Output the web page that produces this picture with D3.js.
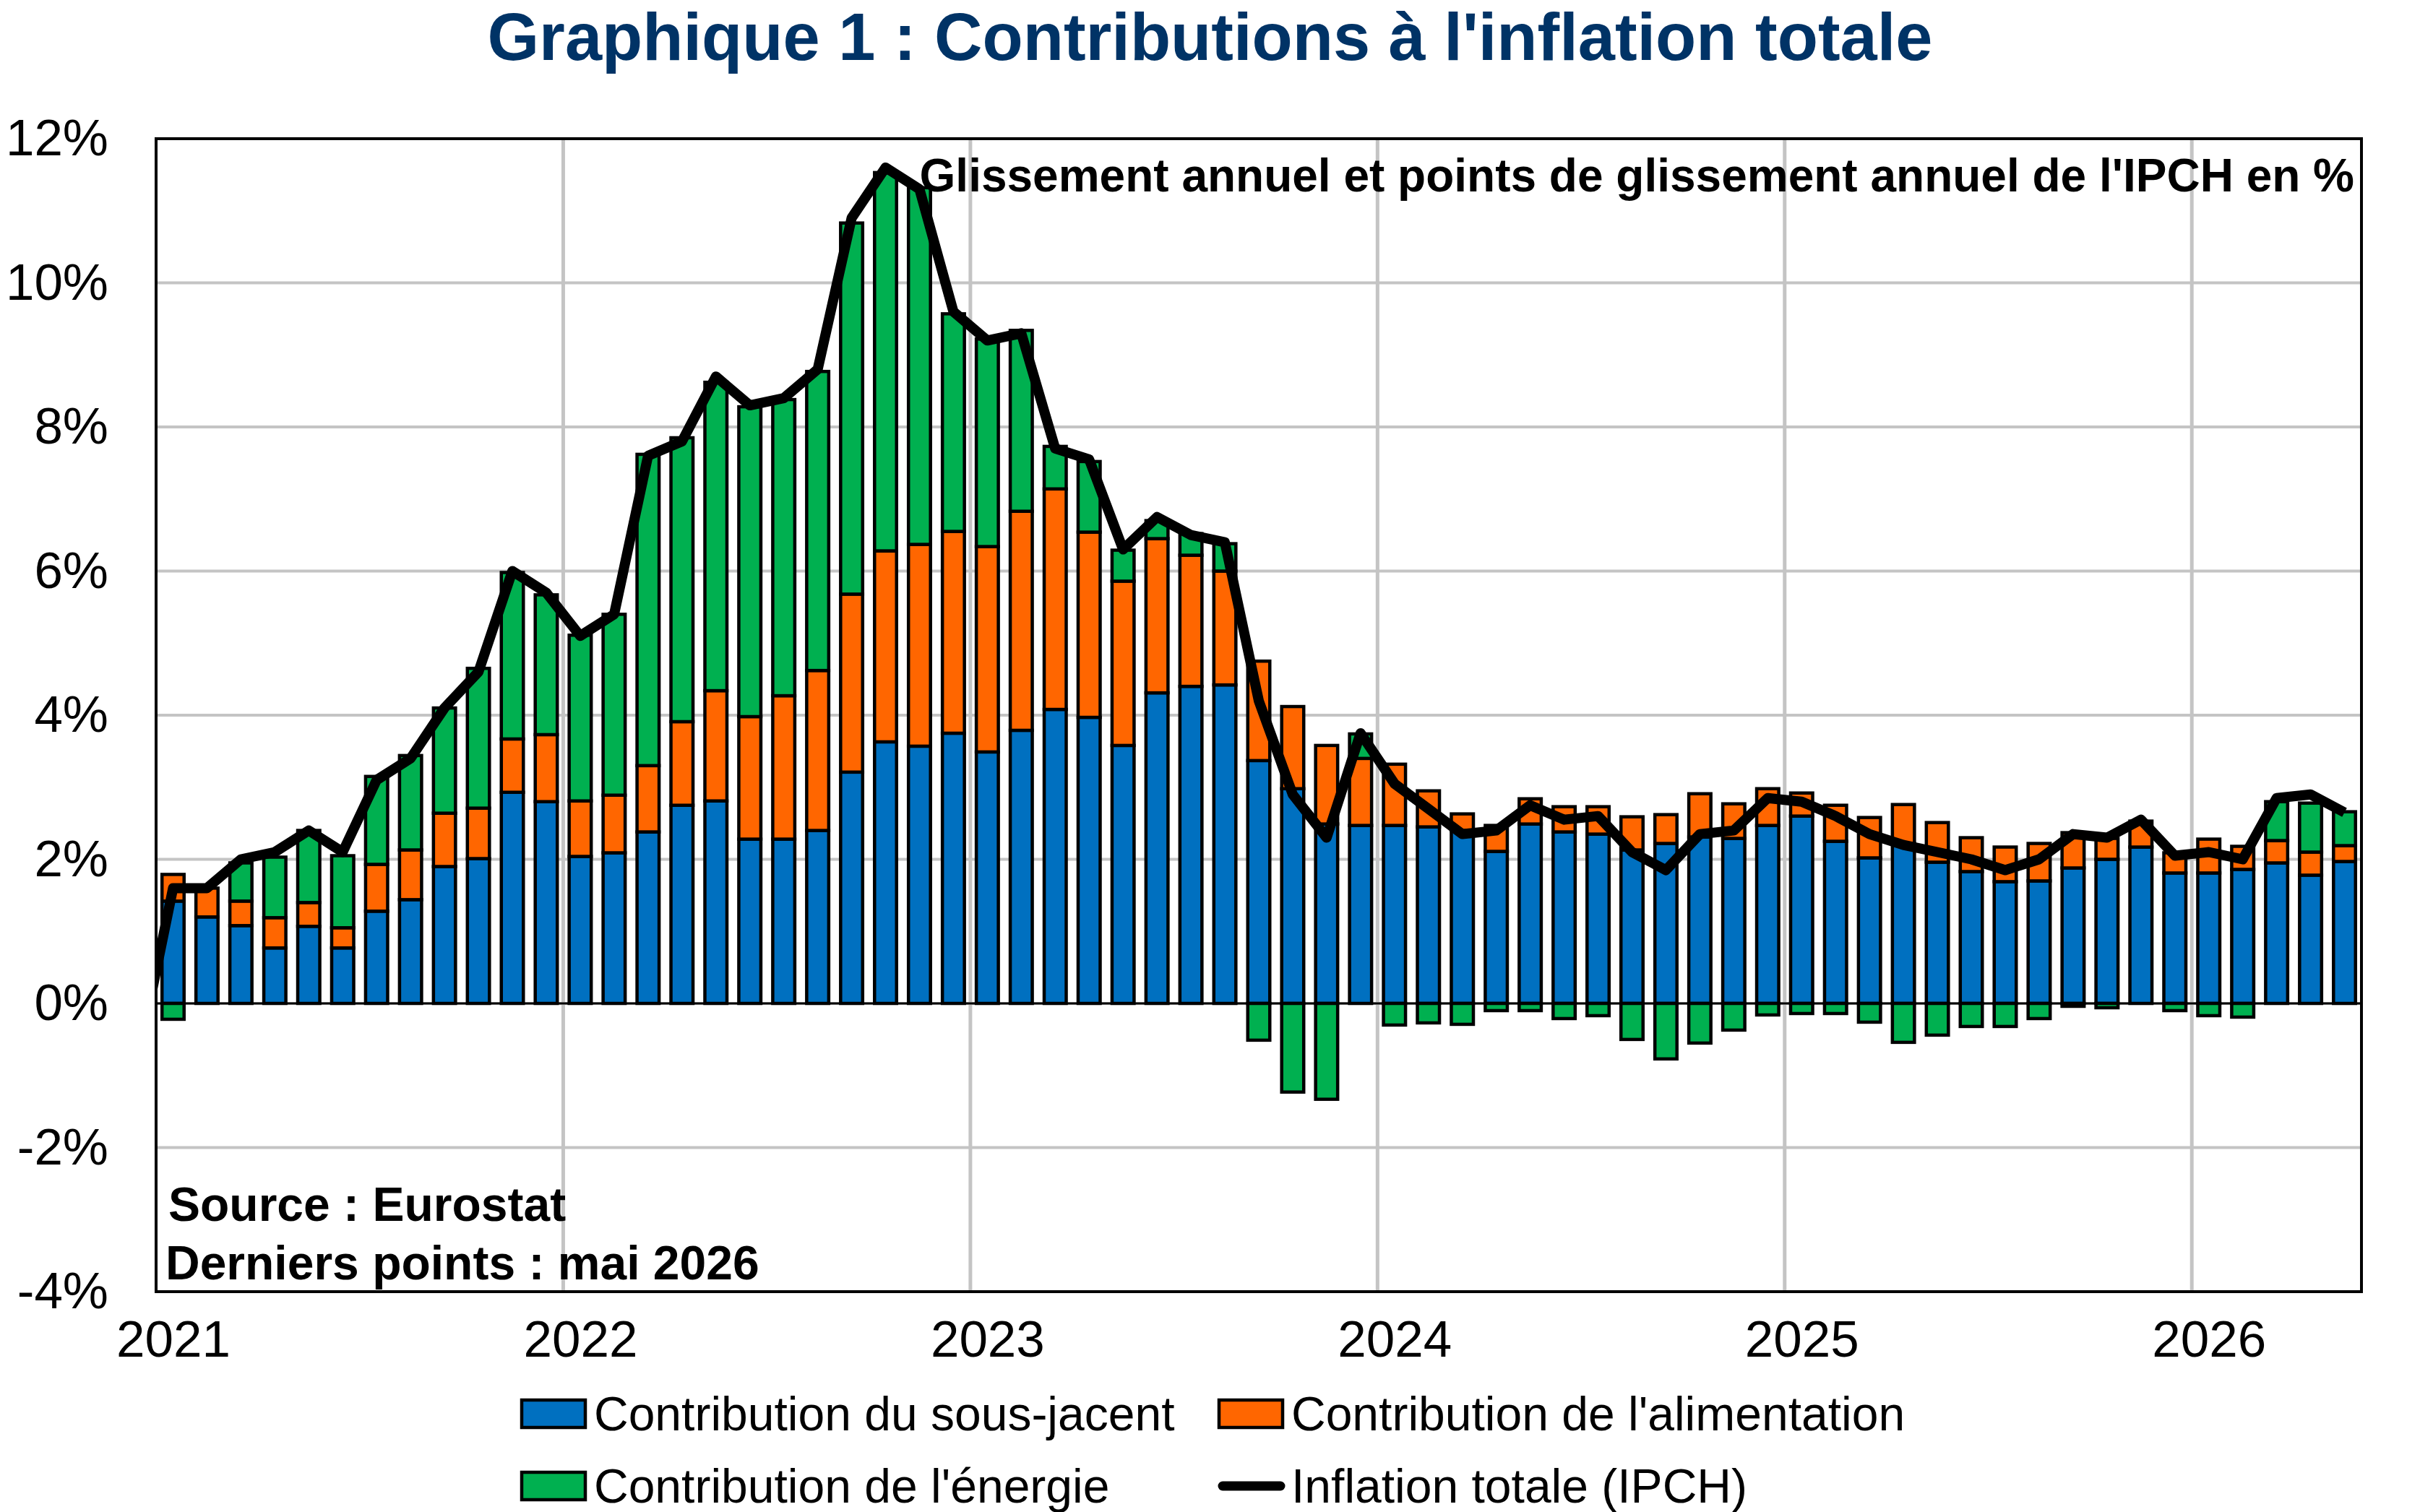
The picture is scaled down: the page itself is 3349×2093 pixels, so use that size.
<!DOCTYPE html>
<html>
<head>
<meta charset="utf-8">
<script src="https://cdn.jsdelivr.net/npm/d3@7"></script>
<style>
  body { margin: 0; background: #fff; }
  text { font-family: "Liberation Sans", Arial, sans-serif; }
</style>
</head>
<body>
<div id="chart"></div>
<script>
// Data (points de glissement annuel, janv. 2021 -> mai 2026)
const years = ['2021', '2022', '2023', '2024', '2025', '2026'];
const months = [];
years.forEach(y => d3.range(1, 13).forEach(m => months.push(y + '-' + String(m).padStart(2, '0'))));
months.length = 65; // dernier point : mai 2026

const sousJacent = [1.42, 1.20, 1.08, 0.77, 1.07, 0.77, 1.28, 1.44, 1.90, 2.01, 2.93, 2.80,
  2.04, 2.09, 2.38, 2.75, 2.81, 2.28, 2.28, 2.40, 3.21, 3.63, 3.57, 3.75,
  3.49, 3.79, 4.08, 3.97, 3.58, 4.31, 4.40, 4.42, 3.37, 2.98, 2.49, 2.47,
  2.47, 2.45, 2.40, 2.11, 2.49, 2.38, 2.35, 2.13, 2.22, 2.31, 2.29, 2.47,
  2.60, 2.25, 2.02, 2.22, 1.96, 1.83, 1.69, 1.70, 1.88, 2.00, 2.17, 1.81,
  1.81, 1.86, 1.95, 1.78, 1.97];
const alimentation = [0.37, 0.40, 0.34, 0.42, 0.33, 0.28, 0.65, 0.69, 0.74, 0.70, 0.74, 0.93,
  0.77, 0.80, 0.92, 1.16, 1.53, 1.70, 1.99, 2.22, 2.47, 2.65, 2.80, 2.80,
  2.85, 3.04, 3.06, 2.57, 2.28, 2.14, 1.82, 1.58, 1.38, 1.14, 1.09, 0.93,
  0.85, 0.50, 0.23, 0.36, 0.35, 0.35, 0.38, 0.46, 0.40, 0.60, 0.48, 0.51,
  0.32, 0.50, 0.56, 0.54, 0.55, 0.47, 0.48, 0.52, 0.49, 0.29, 0.36, 0.28,
  0.47, 0.32, 0.31, 0.32, 0.22];
const energie = [-0.22, 0.00, 0.53, 0.84, 1.00, 1.00, 1.22, 1.31, 1.46, 1.94, 2.31, 1.94,
  2.30, 2.51, 4.32, 3.94, 4.28, 4.30, 4.11, 4.15, 5.15, 5.25, 4.95, 3.02,
  2.88, 2.51, 0.59, 0.98, 0.43, 0.25, 0.30, 0.38, -0.51, -1.23, -1.33, 0.34,
  -0.30, -0.27, -0.29, -0.10, -0.10, -0.21, -0.17, -0.50, -0.77, -0.55, -0.37, -0.16,
  -0.14, -0.14, -0.26, -0.54, -0.44, -0.32, -0.32, -0.21, -0.04, -0.06, 0.00, -0.10,
  -0.17, -0.19, 0.54, 0.68, 0.47];
// Inflation totale, avec décembre 2020 en premier point (hors cadre)
const inflationDec2020 = -0.7;
const inflation = [1.6, 1.6, 2.0, 2.1, 2.4, 2.1, 3.1, 3.4, 4.1, 4.6, 6.0, 5.7,
  5.1, 5.4, 7.6, 7.8, 8.7, 8.3, 8.4, 8.8, 10.9, 11.6, 11.3, 9.6,
  9.2, 9.3, 7.7, 7.55, 6.3, 6.75, 6.5, 6.4, 4.2, 2.9, 2.3, 3.75,
  3.05, 2.7, 2.35, 2.4, 2.75, 2.55, 2.6, 2.1, 1.85, 2.35, 2.4, 2.85,
  2.8, 2.6, 2.35, 2.2, 2.1, 2.0, 1.85, 2.0, 2.35, 2.3, 2.55, 2.05,
  2.1, 2.0, 2.85, 2.9, 2.65];

const seriesKeys = ['sj', 'ali', 'ene'];
const seriesNames = ["Contribution du sous-jacent", "Contribution de l'alimentation", "Contribution de l'énergie"];
const colors = { sj: '#0070C0', ali: '#FF6600', ene: '#00B050' };
const yTicks = [-4, -2, 0, 2, 4, 6, 8, 10, 12];

// Dimensions
const W = 3349, H = 2093;
const plot = { left: 216, right: 3268, top: 192, bottom: 1788 };

const svg = d3.select('#chart').append('svg')
  .attr('width', W).attr('height', H)
  .style('background', '#fff');

const rows = months.map((m, i) => ({ month: m, i: i, sj: sousJacent[i], ali: alimentation[i], ene: energie[i] }));

const x = d3.scaleLinear().domain([0, months.length]).range([plot.left, plot.right]);
const band = d3.scaleBand().domain(months).range([plot.left, plot.right]).paddingInner(0.35).paddingOuter(0.175);
const y = d3.scaleLinear().domain([-4, 12]).range([plot.bottom, plot.top]);

// Title
svg.append('text')
  .attr('x', W / 2).attr('y', 83)
  .attr('text-anchor', 'middle')
  .style('font-size', '92px').style('font-weight', 'bold').style('fill', '#003366')
  .text("Graphique 1 : Contributions à l'inflation totale");

// Grid
svg.append('g').selectAll('line.h')
  .data(yTicks.filter(t => t > -4 && t < 12))
  .enter().append('line')
  .attr('x1', plot.left).attr('x2', plot.right)
  .attr('y1', d => y(d)).attr('y2', d => y(d))
  .style('stroke', '#C4C4C4').style('stroke-width', 4);

svg.append('g').selectAll('line.v')
  .data(d3.range(1, years.length).map(k => k * 12))
  .enter().append('line')
  .attr('x1', d => x(d)).attr('x2', d => x(d))
  .attr('y1', plot.top).attr('y2', plot.bottom)
  .style('stroke', '#C4C4C4').style('stroke-width', 5);

// Bars
const stack = d3.stack().keys(seriesKeys).offset(d3.stackOffsetDiverging);
const stacked = stack(rows);

svg.append('g').selectAll('g')
  .data(stacked)
  .enter().append('g')
  .attr('fill', d => colors[d.key])
  .selectAll('rect')
  .data(d => d.filter(s => Math.abs(s[1] - s[0]) > 0.001))
  .enter().append('rect')
  .attr('x', d => band(d.data.month))
  .attr('width', band.bandwidth())
  .attr('y', d => y(Math.max(d[0], d[1])))
  .attr('height', d => Math.abs(y(d[0]) - y(d[1])))
  .style('stroke', '#000').style('stroke-width', 4.5);

// Zero line
svg.append('line')
  .attr('x1', plot.left).attr('x2', plot.right)
  .attr('y1', y(0)).attr('y2', y(0))
  .style('stroke', '#000').style('stroke-width', 3);

// Inflation line (clipped to plot area)
svg.append('clipPath').attr('id', 'clip')
  .append('rect')
  .attr('x', plot.left).attr('y', plot.top)
  .attr('width', plot.right - plot.left).attr('height', plot.bottom - plot.top);

const linePts = [[-0.5, inflationDec2020]].concat(inflation.map((v, i) => [i + 0.5, v]));
const line = d3.line().x(d => x(d[0])).y(d => y(d[1]));
svg.append('path')
  .datum(linePts)
  .attr('clip-path', 'url(#clip)')
  .attr('d', line)
  .style('fill', 'none').style('stroke', '#000')
  .style('stroke-width', 14).style('stroke-linejoin', 'round');

// Plot frame
svg.append('rect')
  .attr('x', plot.left).attr('y', plot.top)
  .attr('width', plot.right - plot.left).attr('height', plot.bottom - plot.top)
  .style('fill', 'none').style('stroke', '#000').style('stroke-width', 4);

// Axes
const yAxis = d3.axisLeft(y).tickValues(yTicks).tickFormat(d => d + '%').tickSize(0).tickPadding(66);
svg.append('g')
  .attr('transform', `translate(${plot.left},0)`)
  .call(yAxis)
  .call(g => g.select('.domain').remove())
  .selectAll('text')
  .style('font-size', '71px').style('fill', '#000')
  .attr('font-family', null);

const xAxis = d3.axisBottom(x).tickValues(years.map((d, k) => k * 12 + 0.5)).tickFormat((d, k) => years[k]).tickSize(0).tickPadding(40);
svg.append('g')
  .attr('transform', `translate(0,${plot.bottom})`)
  .call(xAxis)
  .call(g => g.select('.domain').remove())
  .selectAll('text')
  .style('font-size', '71px').style('fill', '#000')
  .attr('font-family', null);

// Inner texts
svg.append('text')
  .attr('x', 3258).attr('y', 265)
  .attr('text-anchor', 'end')
  .style('font-size', '64px').style('font-weight', 'bold')
  .text("Glissement annuel et points de glissement annuel de l'IPCH en %");

svg.append('text')
  .attr('x', 233).attr('y', 1690)
  .style('font-size', '66px').style('font-weight', 'bold')
  .text('Source : Eurostat');
svg.append('text')
  .attr('x', 229).attr('y', 1771)
  .style('font-size', '66px').style('font-weight', 'bold')
  .text('Derniers points : mai 2026');

// Legend
const legendItems = [
  { name: seriesNames[0], type: 'rect', color: colors.sj, x: 722, y: 1957 },
  { name: seriesNames[1], type: 'rect', color: colors.ali, x: 1687, y: 1957 },
  { name: seriesNames[2], type: 'rect', color: colors.ene, x: 722, y: 2057 },
  { name: 'Inflation totale (IPCH)', type: 'line', color: '#000', x: 1687, y: 2057 }
];
const legend = svg.append('g').selectAll('g')
  .data(legendItems)
  .enter().append('g')
  .attr('transform', d => `translate(${d.x},${d.y})`);

legend.filter(d => d.type === 'rect').append('rect')
  .attr('x', 0).attr('y', -19).attr('width', 88).attr('height', 38)
  .attr('fill', d => d.color)
  .style('stroke', '#000').style('stroke-width', 4.5);
legend.filter(d => d.type === 'line').append('line')
  .attr('x1', 5).attr('x2', 85).attr('y1', 0).attr('y2', 0)
  .style('stroke', '#000').style('stroke-width', 13).style('stroke-linecap', 'round');
legend.append('text')
  .attr('x', 100).attr('y', 0).attr('dy', '0.35em')
  .style('font-size', '66px')
  .text(d => d.name);
</script>
</body>
</html>
